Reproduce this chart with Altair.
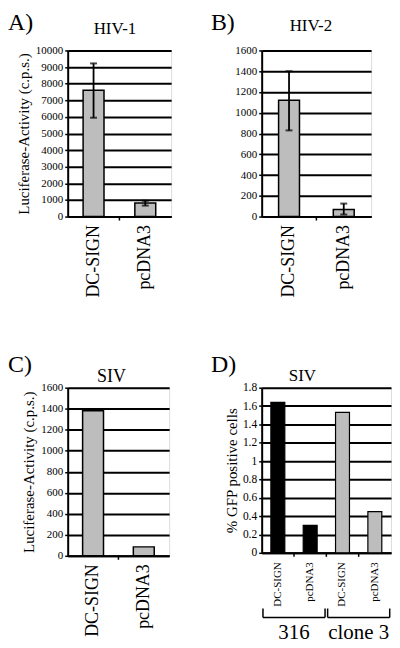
import altair as alt
import pandas as pd

SERIF = "Liberation Serif"
GRAY = "#bdbdbd"

# ---- data ----
cats = ["DC-SIGN", "pcDNA3"]

hiv1_vals = [7600, 820]
hiv1_lo = [5950, 660]
hiv1_hi = [9220, 950]

hiv2_vals = [1120, 67]
hiv2_lo = [830, 20]
hiv2_hi = [1400, 125]

siv_vals = [1380, 85]

gfp_cells = ["316", "316", "clone 3", "clone 3"]
gfp_cats = ["DC-SIGN", "pcDNA3", "DC-SIGN", "pcDNA3"]
gfp_vals = [1.64, 0.30, 1.53, 0.45]
cell_lines = ["316", "clone 3"]

y_ticks_hiv1 = [0, 1000, 2000, 3000, 4000, 5000, 6000, 7000, 8000, 9000, 10000]
y_ticks_hiv2 = [0, 200, 400, 600, 800, 1000, 1200, 1400, 1600]
y_ticks_gfp = [0, 0.2, 0.4, 0.6, 0.8, 1.0, 1.2, 1.4, 1.6, 1.8]

YTITLE = "Luciferase-Activity (c.p.s.)"


def y_axis(values, fmt, title_pad, label_size=11):
    return alt.Axis(
        values=values, format=fmt, grid=True, gridColor="black", gridWidth=2,
        gridOpacity=1, domainColor="black", domainWidth=2, tickColor="black",
        tickSize=3, tickWidth=1.5, labelFont=SERIF, labelFontSize=label_size,
        labelColor="black", labelPadding=2, labelOverlap=False, titleFont=SERIF,
        titleFontSize=15, titleFontWeight="normal", titleColor="black",
        titlePadding=title_pad,
    )


def x_axis(size, pad, expr=None):
    kw = dict(
        labelAngle=270, labelAlign="right", labelBaseline="middle",
        labelFont=SERIF, labelFontSize=size, labelColor="black",
        labelPadding=pad, ticks=False, domainColor="black", domainWidth=2,
        labelOverlap=False,
    )
    if expr:
        kw["labelExpr"] = expr
    return alt.Axis(**kw)


def text_layer(txt, size, lx, ly, align):
    return alt.Chart(pd.DataFrame({"t": [txt]})).mark_text(
        font=SERIF, fontSize=size, align=align, baseline="alphabetic", color="black"
    ).encode(text="t:N", x=alt.value(lx), y=alt.value(ly))


def lucif_panel(vals, lo, hi, ymax, ticks, title, letter, w, h, ytitle,
                title_pad, tx, ty, t_size, lx, ly):
    df = pd.DataFrame({"cat": cats, "val": vals})
    if lo is not None:
        df["lo"] = lo
        df["hi"] = hi
    base = alt.Chart(df)
    xs = alt.Scale(paddingInner=0, paddingOuter=0)
    yscale = alt.Scale(domain=[0, ymax], nice=False)
    yax = y_axis(ticks, "d", title_pad)
    yt = ytitle if ytitle else ""
    xenc = alt.X("cat:N", sort=cats, scale=xs, title=None, axis=x_axis(18, 8))
    bars = base.mark_bar(size=21, fill=GRAY, stroke="black", strokeWidth=1.5).encode(
        x=xenc, y=alt.Y("val:Q", scale=yscale, title=yt, axis=yax))
    layers = [bars]
    if lo is not None:
        err = base.mark_rule(color="black", strokeWidth=1.8).encode(
            x=xenc, y=alt.Y("lo:Q", scale=yscale, title=yt, axis=yax), y2="hi:Q")
        cap_lo = base.mark_tick(color="black", size=7, thickness=2, orient="horizontal").encode(
            x=xenc, y=alt.Y("lo:Q", scale=yscale, title=yt, axis=yax))
        cap_hi = base.mark_tick(color="black", size=7, thickness=2, orient="horizontal").encode(
            x=xenc, y=alt.Y("hi:Q", scale=yscale, title=yt, axis=yax))
        layers += [err, cap_lo, cap_hi]
    between = alt.Chart(df.iloc[1:]).mark_rule(color="black", strokeWidth=1.5).encode(
        x=alt.X("cat:N", sort=cats, bandPosition=0),
        y=alt.value(h), y2=alt.value(h + 4))
    layers += [between,
               text_layer(letter, 24, lx, ly, "left"),
               text_layer(title, t_size, tx, ty, "center")]
    return alt.layer(*layers).properties(width=w, height=h)


A = lucif_panel(hiv1_vals, hiv1_lo, hiv1_hi, 10000, y_ticks_hiv1, "HIV-1", "A)",
                104, 167, YTITLE, 4, 47.5, -17, 17, -60, -21)
B = lucif_panel(hiv2_vals, hiv2_lo, hiv2_hi, 1600, y_ticks_hiv2, "HIV-2", "B)",
                110, 167, None, 4, 49.5, -20, 17, -51, -21)
C = lucif_panel(siv_vals, None, None, 1600, y_ticks_hiv2, "SIV", "C)",
                102, 169, YTITLE, 4, 44, -6, 18, -60, -16)

# ---- panel D ----
keys = [c + "|" + k for c, k in zip(gfp_cells, gfp_cats)]
dfd = pd.DataFrame({"key": keys, "cell": gfp_cells, "val": gfp_vals})
dfb = pd.DataFrame({
    "cell": cell_lines,
    "first": [k for k in keys if k.endswith("DC-SIGN")],
    "last": [k for k in keys if k.endswith("pcDNA3")],
})
HD = 166
xs_d = alt.Scale(paddingInner=0, paddingOuter=0)
bars_d = alt.Chart(dfd).mark_bar(size=14, stroke="black", strokeWidth=1.2).encode(
    x=alt.X("key:N", sort=keys, scale=xs_d, title=None,
            axis=x_axis(11, 9, "split(datum.label, '|')[1]")),
    y=alt.Y("val:Q", scale=alt.Scale(domain=[0, 1.8], nice=False),
            title="% GFP positive cells", axis=y_axis(y_ticks_gfp, "~f", 3, 11.5)),
    color=alt.Color("cell:N", scale=alt.Scale(domain=cell_lines, range=["black", GRAY]),
                    legend=None),
)
between_d = alt.Chart(dfd.iloc[1:]).mark_rule(color="black", strokeWidth=1.5).encode(
    x=alt.X("key:N", sort=keys, bandPosition=0), y=alt.value(HD), y2=alt.value(HD + 4))
br = alt.Chart(dfb)
br_h = br.mark_rule(color="black", strokeWidth=1.5).encode(
    x=alt.X("first:N", sort=keys, bandPosition=0.04),
    x2=alt.X2("last:N", bandPosition=0.96),
    y=alt.value(HD + 65))
br_l = br.mark_rule(color="black", strokeWidth=1.5).encode(
    x=alt.X("first:N", sort=keys, bandPosition=0.04), y=alt.value(HD + 56), y2=alt.value(HD + 65))
br_r = br.mark_rule(color="black", strokeWidth=1.5).encode(
    x=alt.X("last:N", sort=keys, bandPosition=0.96), y=alt.value(HD + 56), y2=alt.value(HD + 65))
br_t = br.mark_text(font=SERIF, fontSize=21, baseline="alphabetic", color="black").encode(
    x=alt.X("last:N", sort=keys, bandPosition=0), y=alt.value(HD + 87), text="cell:N")
D = alt.layer(bars_d, between_d, br_h, br_l, br_r, br_t,
              text_layer("D)", 24, -51, -16, "left"),
              text_layer("SIV", 17, 41, -7, "center")).properties(width=130, height=HD)

chart = alt.concat(
    A, B, C, D, columns=2, bounds="flush", align="each",
    spacing=alt.RowColnumber(row=172, column=91),
).properties(
    padding={"top": 0, "left": -1, "bottom": 0, "right": 0}
).configure_view(stroke="transparent").configure(background="white")

chart.save("out.html", embed_options={"renderer": "svg", "actions": False})
